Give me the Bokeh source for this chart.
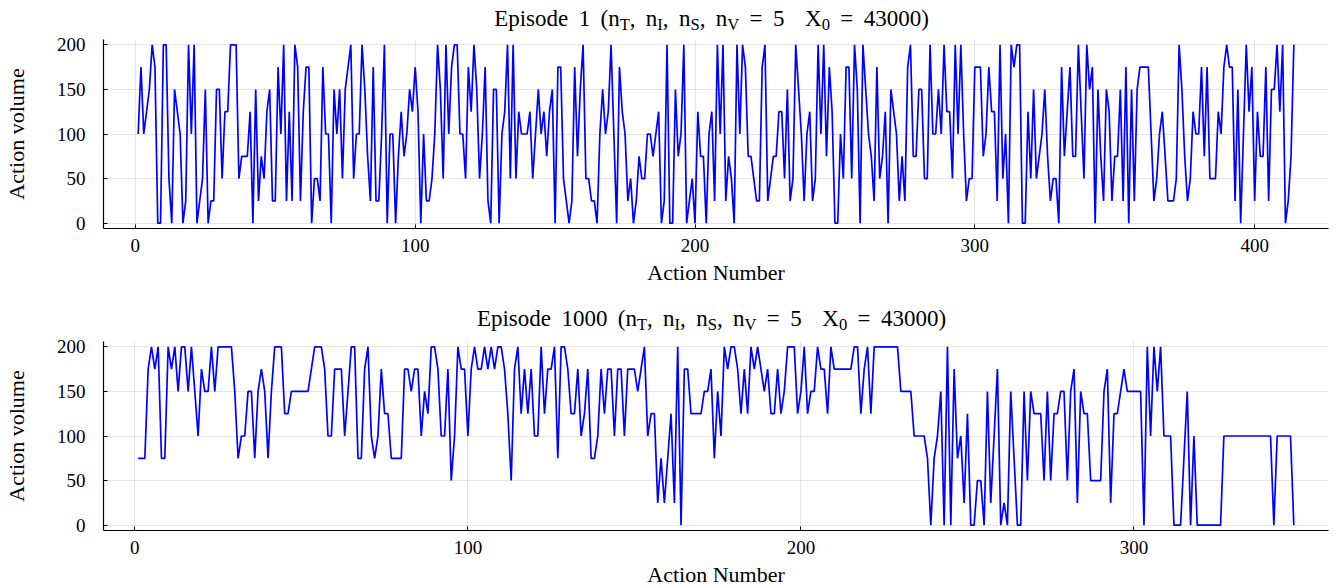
import numpy as np
from bokeh.plotting import figure
from bokeh.layouts import column
from bokeh.models import FixedTicker, Range1d
from bokeh.embed import file_html
from bokeh.resources import INLINE
from bokeh.core.properties import value

# ---------------- data ----------------
ep1_actions = [
    100,175,100,125,150,200,175,0,0,200,
    200,50,0,150,125,100,0,25,200,100,
    200,0,25,50,150,0,25,25,150,150,
    50,125,125,200,200,200,50,75,75,75,
    125,0,150,25,75,50,125,150,25,25,
    175,100,200,25,125,25,200,175,25,125,
    175,175,0,50,50,25,175,100,100,0,
    150,100,150,50,150,175,200,50,100,100,
    200,150,75,25,175,25,25,100,200,0,
    100,100,0,75,125,75,100,150,125,175,
    125,0,100,25,25,50,100,200,150,50,
    200,100,175,200,200,100,100,50,175,125,
    200,150,50,100,175,25,0,150,150,0,
    100,125,200,50,200,50,125,100,100,100,
    125,50,100,150,100,125,75,125,150,0,
    175,175,50,25,0,25,175,75,150,200,
    50,50,25,25,0,100,150,100,125,200,
    100,0,175,125,100,25,50,0,25,75,
    50,50,100,100,75,100,125,0,25,200,
    0,0,150,75,100,200,0,25,50,0,
    125,75,75,0,100,125,25,200,100,200,
    25,75,50,0,200,100,200,175,75,75,
    50,25,25,175,200,25,50,75,75,125,
    125,50,150,25,50,200,150,100,25,100,
    125,25,50,200,100,200,75,175,125,0,
    0,100,50,175,175,50,200,150,0,200,
    150,100,75,25,175,50,75,125,0,150,
    125,100,25,75,25,175,200,75,75,150,
    150,50,50,200,100,100,150,100,200,125,
    125,50,200,100,200,100,25,50,50,175,
    175,175,75,100,175,125,125,25,200,50,
    100,0,200,175,200,200,0,0,125,50,
    150,50,75,100,150,75,25,50,50,0,
    175,75,125,175,75,75,200,125,50,200,
    150,175,0,150,75,25,150,125,25,75,
    75,150,25,175,0,150,25,150,175,175,
    175,175,100,25,50,100,125,75,25,25,
    25,50,200,150,75,25,50,125,100,100,
    175,75,175,50,50,50,125,100,175,200,
    175,175,25,150,0,100,200,125,175,25,
    125,75,75,175,25,150,150,200,125,200,
    0,25,75,200,
]

ep1000_actions = [
    75,75,75,175,200,175,200,75,75,200,
    175,200,150,200,200,150,200,150,100,175,
    150,150,200,150,200,200,200,200,200,150,
    75,100,100,150,150,75,150,175,150,75,
    150,200,200,200,125,125,150,150,150,150,
    150,150,175,200,200,200,175,100,100,175,
    175,175,100,150,200,200,75,75,175,200,
    100,75,100,175,125,125,75,75,75,75,
    175,175,150,175,175,100,150,125,200,200,
    175,100,100,175,50,100,200,175,175,100,
    175,200,175,175,200,175,200,175,200,200,
    175,125,50,175,200,125,175,125,175,100,
    100,200,125,175,175,200,75,200,200,175,
    125,125,175,100,125,175,75,75,100,175,
    125,175,175,100,175,175,100,175,175,175,
    150,175,200,100,125,125,25,75,25,75,
    125,25,200,0,175,175,125,125,125,125,
    150,150,175,75,150,100,200,175,200,200,
    175,125,175,125,200,175,200,175,150,175,
    125,125,175,125,150,200,200,200,125,150,
    200,125,150,150,200,175,175,125,200,175,
    175,175,175,175,175,200,200,125,175,200,
    125,200,200,200,200,200,200,200,200,150,
    150,150,150,100,100,100,100,75,0,75,
    100,150,0,200,0,175,75,100,25,125,
    0,0,50,50,0,150,25,100,175,0,
    25,0,150,75,0,0,150,50,150,125,
    125,125,50,150,50,125,125,150,150,50,
    150,175,25,150,125,125,50,50,50,50,
    150,175,25,125,125,150,175,150,150,150,
    150,150,0,200,100,200,150,200,100,100,
    100,0,0,0,75,150,0,100,0,0,
    0,0,0,0,0,0,100,100,100,100,
    100,100,100,100,100,100,100,100,100,100,
    100,0,100,100,100,100,100,0,
]

y_ticks = [0, 50, 100, 150, 200]
ep1_x_ticks = [0, 100, 200, 300, 400]
ep1000_x_ticks = [0, 100, 200, 300]

ep1_title = [("Episode 1 (n", False), ("T", True), (", n", False), ("I", True),
             (", n", False), ("S", True), (", n", False), ("V", True),
             (" = 5  X", False), ("0", True), (" = 43000)", False)]
ep1000_title = [("Episode 1000 (n", False), ("T", True), (", n", False), ("I", True),
                (", n", False), ("S", True), (", n", False), ("V", True),
                (" = 5  X", False), ("0", True), (" = 43000)", False)]

# ---------------- style ----------------
FONT = "Liberation Serif"
TICK_PX = 19
LABEL_PX = 22
TITLE_PX = 23
SUB_RATIO = 0.72
SPACE_EM = 0.45
LEFT_B = 98
RIGHT_B = 2
FRAME_W = 1225
FRAME_H = 189
TITLE_CENTER = 608   # in frame pixels (frame starts ~100 px from page left)

# Times-metric advance widths (per 1000 em)
TW = {'(': 333, ')': 333, ',': 250, '=': 564, '0': 500, '1': 500, '3': 500,
      '4': 500, '5': 500, 'E': 611, 'p': 500, 'i': 278, 's': 389, 'o': 500, 'd': 500,
      'e': 444, 'n': 500, 'T': 611, 'I': 333, 'S': 556, 'V': 722, 'X': 722}


def text_w(s, fs):
    return sum((SPACE_EM * 1000 if c == ' ' else TW.get(c, 500)) for c in s) * fs / 1000.0


def title_fig(segments, height, center_y):
    t = figure(frame_width=FRAME_W, frame_height=height, title=None,
               x_range=Range1d(0, FRAME_W), y_range=Range1d(0, height),
               x_axis_type=None, y_axis_type=None,
               output_backend="svg", toolbar_location=None,
               min_border_left=LEFT_B, min_border_right=RIGHT_B,
               min_border_top=0, min_border_bottom=0)
    t.outline_line_color = None
    t.background_fill_color = "white"
    t.border_fill_color = "white"
    sub = TITLE_PX * SUB_RATIO
    total = sum(text_w(s, sub if b else TITLE_PX) for s, b in segments)
    cur = TITLE_CENTER - total / 2.0
    nx, ny, nt, sx, sy, st = [], [], [], [], [], []
    for s, b in segments:
        fs = sub if b else TITLE_PX
        lead = len(s) - len(s.lstrip(' '))
        body = s.strip(' ')
        if body:
            pos = cur + text_w(' ' * lead, fs)
            for wd in body.split(' '):
                if wd:
                    if b:
                        sx.append(pos); sy.append(center_y - 6.0); st.append(wd)
                    else:
                        nx.append(pos); ny.append(center_y); nt.append(wd)
                pos += text_w(wd + ' ', fs)
        cur += text_w(s, fs)
    t.text(x=nx, y=ny, text=nt, text_font=value(FONT), text_font_size=f"{TITLE_PX}px",
           text_color="black", text_baseline="middle", text_align="left")
    t.text(x=sx, y=sy, text=st, text_font=value(FONT), text_font_size=f"{sub:.1f}px",
           text_color="black", text_baseline="middle", text_align="left")
    return t


def make_panel(actions, xticks, top_border, bottom_border):
    n = len(actions)
    xs = np.arange(1, n + 1)
    pad = 0.03 * (n - 1)
    xr = (1 - pad, n + pad)
    yr = (-6.0, 206.0)
    p = figure(frame_width=FRAME_W, frame_height=FRAME_H, title=None,
               x_range=Range1d(*xr), y_range=Range1d(*yr),
               output_backend="svg", toolbar_location=None,
               min_border_left=LEFT_B, min_border_right=RIGHT_B,
               min_border_top=top_border, min_border_bottom=bottom_border)
    p.outline_line_color = None
    p.background_fill_color = "white"
    p.border_fill_color = "white"
    p.line(xs, actions, line_color="#0000ff", line_width=1.7)

    p.xaxis.ticker = FixedTicker(ticks=xticks)
    p.yaxis.ticker = FixedTicker(ticks=y_ticks)
    p.xaxis.axis_label = "Action Number"
    p.yaxis.axis_label = "Action volume"
    for ax in p.axis:
        ax.axis_line_color = "black"
        ax.axis_line_width = 1.2
        ax.major_tick_in = 4
        ax.major_tick_out = 0
        ax.minor_tick_line_color = None
        ax.major_tick_line_color = "black"
        ax.major_label_text_font = FONT
        ax.major_label_text_font_size = f"{TICK_PX}px"
        ax.major_label_text_color = "black"
        ax.axis_label_text_font = FONT
        ax.axis_label_text_font_size = f"{LABEL_PX}px"
        ax.axis_label_text_font_style = "normal"
        ax.axis_label_text_color = "black"
    p.yaxis.major_label_standoff = 18
    p.yaxis.axis_label_standoff = 25
    p.xaxis.major_label_standoff = 10
    p.xaxis.axis_label_standoff = 5
    p.xgrid.ticker = FixedTicker(ticks=xticks)
    p.ygrid.ticker = FixedTicker(ticks=y_ticks)
    for g in (p.xgrid, p.ygrid):
        g.grid_line_color = "black"
        g.grid_line_alpha = 0.1
        g.grid_line_width = 1
    return p


# layout (page y): title1 0-34, plot1 frame 39-228, title2 290-335, plot2 frame 341-530
t1 = title_fig(ep1_title, 34, 34 - 17.5)
p1 = make_panel(ep1_actions, ep1_x_ticks, 5, 62)
t2 = title_fig(ep1000_title, 45, 45 - 28.0)
p2 = make_panel(ep1000_actions, ep1000_x_ticks, 6, 50)

layout = column(t1, p1, t2, p2, spacing=0)
open("out.html", "w").write(file_html(layout, INLINE))
